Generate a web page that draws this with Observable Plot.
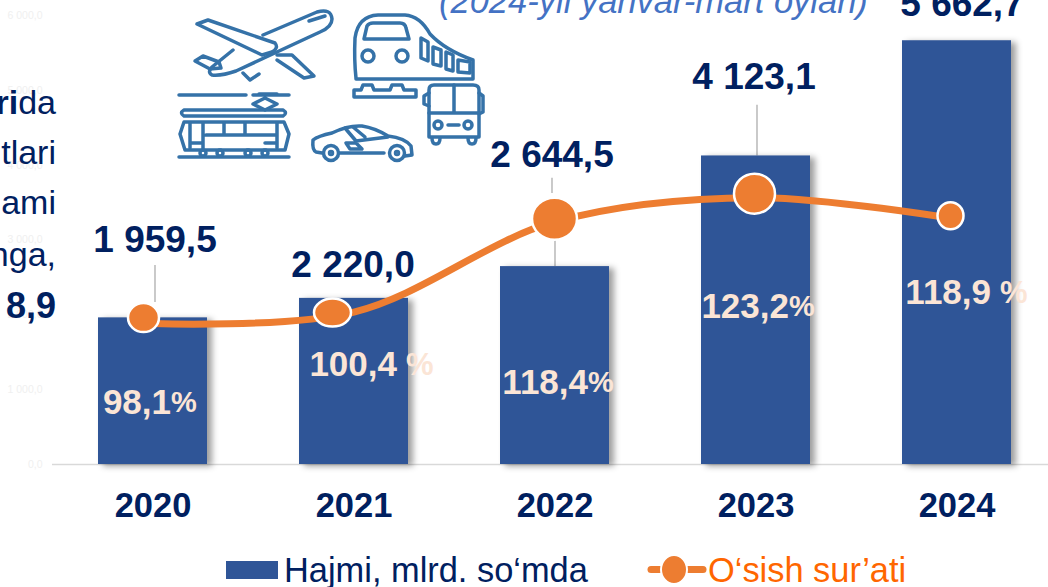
<!DOCTYPE html>
<html><head><meta charset="utf-8">
<script src="https://cdn.jsdelivr.net/npm/d3@7"></script>
<script src="https://cdn.jsdelivr.net/npm/@observablehq/plot@0.6"></script>
<style>
html,body{margin:0;padding:0;background:#fff;overflow:hidden;width:1048px;height:587px;font-family:"Liberation Sans",Arial,sans-serif}
#root{position:relative;width:1048px;height:587px;overflow:hidden}
#chart{position:absolute;left:0;top:0}
.abs{position:absolute;white-space:nowrap}
.side{color:#002060;font-size:34px;line-height:36px;right:992px}
#title{color:#4472c4;font-style:italic;font-size:34.5px;left:439px;top:-18px}
#legend span{position:absolute;white-space:nowrap;font-size:34.4px;line-height:36px;top:552px}
</style></head><body>
<div id="root">
<div id="chart"></div>
<div class="abs side" style="top:84px"><b>ri</b>da</div>
<div class="abs side" style="top:134px">tlari</div>
<div class="abs side" style="top:184px">ami</div>
<div class="abs side" style="top:236px">nga,</div>
<div class="abs side" style="top:288px;font-size:36px"><b>8,9</b></div>
<div class="abs" id="title">(2024-yil yanvar-mart oylari)</div>
<svg class="abs" style="left:0;top:0" width="1048" height="200" fill="none" stroke="#3572a8" stroke-width="3.5" stroke-linejoin="round" stroke-linecap="round">
  <!-- plane -->
  <path d="M263 35L317 12Q331 8 332 19Q332 27 320 32L236 71Q222 76 212 75Q207 72 212 67L233 50"/>
  <path d="M197 24L208 20L275 43Q279 48 272 52L262 55L197 24Z"/>
  <path d="M277 55L292 55L314 76L304 78L277 60"/>
  <path d="M195 61L203 56L219 62L221 68L210 69Z"/>
  <path d="M243 73L250 80L259 74"/>
  <path d="M309 21L325 16"/>
  <!-- train -->
  <path d="M356 78Q354 60 355 38Q358 16 378 15L405 15Q420 16 430 34Q445 50 473 60L473 79L356 79Z"/>
  <path d="M364 39L367 26Q369 23 373 23L400 23Q405 23 406 28L409 39Z"/>
  <circle cx="368" cy="56" r="6"/><circle cx="402" cy="56" r="6"/>
  <path d="M421 38L428 42L428 61L421 58Z"/><path d="M433 47L441 50L441 66L433 64Z"/><path d="M446 52L453 55L453 71L446 69Z"/><path d="M458 60L470 62L470 73L458 72Z"/>
  <path d="M354 97L416 97L416 90L404 90L402 85L392 85L390 90L374 90L372 85L363 85L361 90L354 90Z"/>
  <!-- tram -->
  <path d="M179 95L246 95M253 95L289 95M259 94L277 94M253 104L265 98L277 104L265 110Z"/>
  <path d="M184 110L283 110Q288 113 283 116L184 116Q179 113 184 110Z"/>
  <path d="M184 122L284 122L289 134L285 150L185 150L180 134Z"/>
  <path d="M190 123L190 148M203 123L203 148M206 135L276 135M224 123L224 134M245 123L245 134M277 123L277 148M190 143L203 143M265 143L277 143"/>
  <path d="M179 157L289 157"/>
  <circle cx="203" cy="153" r="3"/><circle cx="220" cy="153" r="3"/><circle cx="248" cy="153" r="3"/><circle cx="265" cy="153" r="3"/>
  <!-- car -->
  <path d="M322 153L316 152Q312 150 313 140Q318 136 332 133Q348 125 362 126Q375 128 388 136Q405 138 411 146L412 155L405 156M384 153L339 153"/>
  <path d="M345 128L356 141L388 137M353 127L365 137M346 143L356 143L362 149L350 149Z"/>
  <circle cx="331" cy="153" r="7.5"/><circle cx="331" cy="153" r="1.5"/><circle cx="397" cy="153" r="7.5"/><circle cx="397" cy="153" r="1.5"/>
  <!-- bus -->
  <path d="M429 90Q429 85 434 85L473 85Q479 85 479 90L479 137L429 137Z"/>
  <path d="M429 113L479 113M454 85L454 113M429 93L424 96L424 104L429 106M479 93L483 96L483 112L479 114M448 125L459 125"/>
  <circle cx="438" cy="125" r="4"/><circle cx="468" cy="125" r="4"/>
  <path d="M432 138Q432 144 436 144Q440 144 440 138M468 138Q468 144 472 144Q476 144 476 138"/>
</svg>
<div id="legend">
  <svg class="abs" style="left:0;top:545px" width="1048" height="42">
    <rect x="226" y="16" width="52" height="18" fill="#2f5597"/>
    <path d="M651 24.5L703 24.5" stroke="#ed7d31" stroke-width="7" stroke-linecap="round"/>
    <ellipse cx="674" cy="24.5" rx="13" ry="14.5" fill="#ed7d31" stroke="#fff" stroke-width="2"/>
  </svg>
  <span style="left:284px;color:#002060">Hajmi, mlrd. so‘mda</span>
  <span style="left:708px;color:#ff6600">O‘sish sur’ati</span>
</div>
</div>
<script>
const years = ["2020", "2021", "2022", "2023", "2024"];
const volume = [1959.5, 2220.0, 2644.5, 4123.1, 5662.7];
const growth = [98.1, 100.4, 118.4, 123.2, 118.9];
const growthText = ["98,1", "100,4", "118,4", "123,2", "118,9"];
const growthUnit = ["%", " %", "%", "%", " %"];

const fmt = d3.formatLocale({decimal: ",", thousands: " ", grouping: [3]}).format(",.1f");
// secondary axis of the original, expressed in units of the volume axis
const onAxis = d3.scaleLinear().domain([98.1, 123.2]).range([1883, 3566]);

function ellipse(rx, ry) {
  const k = 0.5523;
  return {draw(c) {
    c.moveTo(rx, 0);
    c.bezierCurveTo(rx, k * ry, k * rx, ry, 0, ry);
    c.bezierCurveTo(-k * rx, ry, -rx, k * ry, -rx, 0);
    c.bezierCurveTo(-rx, -k * ry, -k * rx, -ry, 0, -ry);
    c.bezierCurveTo(k * rx, -ry, rx, -k * ry, rx, 0);
    c.closePath();
  }};
}

const idx = d3.range(years.length);
const navy = "#002060", peach = "#fbe5d6", orange = "#ed7d31", grey = "#a6a6a6";
const markerStyle = [
  {rx: 15.5, ry: 14.5, dx: -9.5, dy: -6},
  {rx: 18.5, ry: 14, dx: -21.5, dy: 0.5},
  {rx: 22.5, ry: 21, dx: -0.5, dy: -3},
  {rx: 20.5, ry: 20, dx: -1.5, dy: -4},
  {rx: 13, ry: 13.5, dx: -6.5, dy: -3.5}
];
const valueDx = [2, -1, -3, -2, 5];
const valueLabelAt = [2995, 2660, 4131, 5174, 6150];
const growthLabelAt = [828, 1335, 1095, 2110, 2297];
const growthJoinDx = [18, 43, 33, 33, 34];
const unitSize = [29, 31, 29, 29, 31];
const unitDx = [0, 9, 0, 0, 9];
const leaders = [
  {year: "2020", from: 2166, to: 2660, dx: 2},
  {year: "2022", from: 2644.5, to: 2995, dx: 0},
  {year: "2022", from: 3623, to: 3824, dx: -3},
  {year: "2023", from: 4123.1, to: 4799, dx: 1}
];

const plot = Plot.plot({
  width: 1048, height: 530,
  marginLeft: 52, marginRight: 0, marginTop: 15, marginBottom: 66,
  style: {fontFamily: '"Liberation Sans", Arial, sans-serif', background: "transparent", overflow: "visible"},
  x: {domain: years, range: [52, 1057], paddingInner: 0.457, paddingOuter: 0.2285, label: null},
  y: {domain: [0, 6000], label: null},
  marks: [
    Plot.axisY({ticks: [0, 1000, 2000, 3000, 4000, 5000, 6000], tickFormat: fmt, tickSize: 0, tickPadding: 10, fontSize: 10.5, fill: "#f0f0f0", label: null}),
    Plot.axisX({tickSize: 0, tickPadding: 28, fontSize: 34.5, fontWeight: "bold", fill: navy, label: null}),
    Plot.ruleY([0], {stroke: "#d9d9d9", strokeWidth: 1.5}),
    ...leaders.map(l => Plot.ruleX([l.year], {y1: l.from, y2: l.to, dx: l.dx, stroke: grey, strokeWidth: 1.2})),
    Plot.barY(idx, {x: i => years[i], y: i => volume[i], fill: "#2f5597", imageFilter: "drop-shadow(5px 2px 3px rgba(0,0,0,0.38))"}),
    Plot.line(idx, {x: i => years[i], y: i => onAxis(growth[i]), curve: "catmull-rom", stroke: orange, strokeWidth: 7, strokeLinecap: "round"}),
    ...idx.map(i => Plot.dot([i], {x: j => years[j], y: j => onAxis(growth[j]), r: 10, symbol: ellipse(markerStyle[i].rx, markerStyle[i].ry), dx: markerStyle[i].dx, dy: markerStyle[i].dy, fill: orange, stroke: "white", strokeWidth: 2.5})),
    ...idx.map(i => Plot.text([i], {x: j => years[j], y: valueLabelAt[i], text: j => fmt(volume[j]), dx: valueDx[i], fontSize: 37, fontWeight: "bold", fill: navy})),
    ...idx.map(i => Plot.text([i], {x: j => years[j], y: growthLabelAt[i], text: j => growthText[j], textAnchor: "end", dx: growthJoinDx[i], fontSize: 35, fontWeight: "bold", fill: peach})),
    ...idx.map(i => Plot.text([i], {x: j => years[j], y: growthLabelAt[i], text: j => growthUnit[j].trim(), textAnchor: "start", dx: growthJoinDx[i] + unitDx[i], fontSize: unitSize[i], fontWeight: "bold", fill: peach}))
  ]
});
document.getElementById("chart").appendChild(plot);
</script>
</body></html>
